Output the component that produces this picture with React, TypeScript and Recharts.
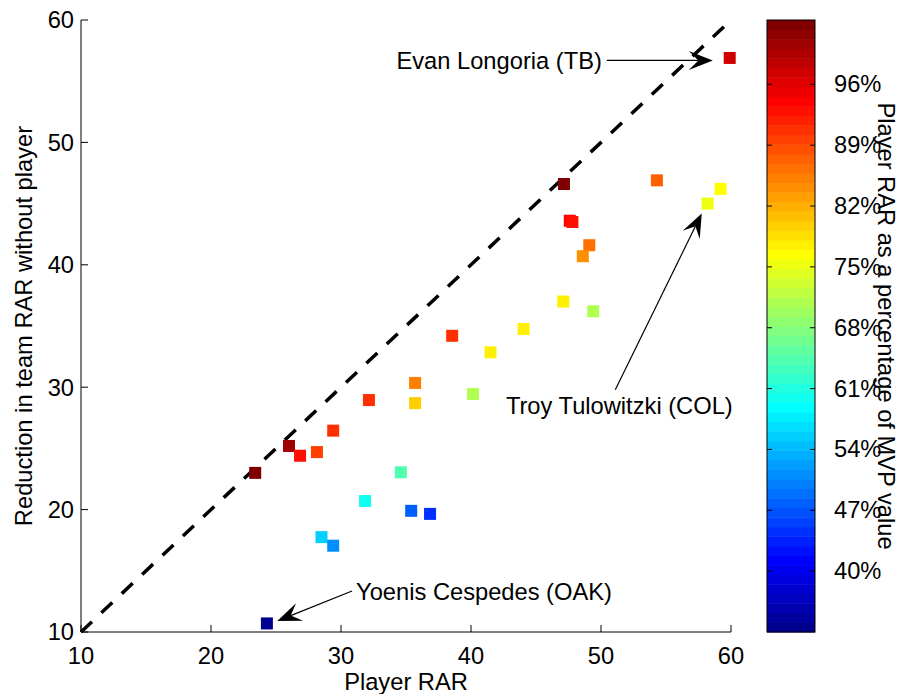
import { ScatterChart, Scatter, XAxis, YAxis, ReferenceLine } from "recharts";

// player RAR (x), reduction in team RAR without player (y), colour value (% of MVP value)
const playerRar = [
  59.9, 47.15, 47.6, 47.8, 49.1, 48.6, 54.3, 59.2, 58.2, 47.1,
  49.4, 44.05, 38.55, 41.5, 35.7, 35.7, 40.15, 32.15, 29.4, 26.0,
  26.85, 28.15, 23.4, 34.6, 31.85, 35.4, 36.85, 28.5, 29.4, 24.3,
];
const teamDrop = [
  56.9, 46.6, 43.6, 43.5, 41.6, 40.7, 46.9, 46.2, 45.0, 37.0,
  36.2, 34.75, 34.2, 32.85, 30.35, 28.7, 29.45, 28.95, 26.45, 25.2,
  24.4, 24.7, 23.0, 23.05, 20.7, 19.9, 19.65, 17.75, 17.05, 10.7,
];
const pctMvp = [
  97.4, 103, 94, 93, 86.4, 84.2, 87.5, 76.5, 75.3, 78,
  71, 77.5, 90.8, 77.5, 85.3, 79.8, 71, 90.8, 90.8, 100.6,
  93, 89.3, 103, 64.4, 60, 48, 44.6, 55.6, 51.2, 33.5,
];

const axisTicks = [10, 20, 30, 40, 50, 60];
const diagonal = [10, 60];

const colorMin = 33.0;
const colorMax = 103.4;
const colorTicks = [40, 47, 54, 61, 68, 75, 82, 89, 96];

const noteLabels = ["Evan Longoria (TB)", "Troy Tulowitzki (COL)", "Yoenis Cespedes (OAK)"];
const noteFrom = [[50.45, 56.7], [51.1, 29.8], [30.85, 13.35]];
const noteTo = [[58.6, 56.7], [57.75, 44.2], [25.1, 10.9]];

const FONT = "'Liberation Sans', Arial, Helvetica, sans-serif";
const FS = 23.7;

function jet(p: number) {
  const i = Math.min(63, Math.max(0, Math.floor(((p - colorMin) / (colorMax - colorMin)) * 64)));
  const t = (i + 1) / 64;
  const c = (v: number) => Math.round(255 * Math.max(0, Math.min(1, v)));
  return `rgb(${c(Math.min(4 * t - 1.5, 4.5 - 4 * t))},${c(Math.min(4 * t - 0.5, 3.5 - 4 * t))},${c(Math.min(4 * t + 0.5, 2.5 - 4 * t))})`;
}

const points = playerRar.map((x, i) => ({ x, y: teamDrop[i], pct: pctMvp[i] }));

const Square = (props: any) => {
  const { cx, cy, payload } = props;
  if (cx == null || cy == null) return <g />;
  return <rect x={cx - 6} y={cy - 6} width={12} height={12} fill={jet(payload.pct)} />;
};

function arrowShape(idx: number) {
  return (props: any) => {
    const { x1, y1, x2, y2 } = props;
    const dx = x2 - x1, dy = y2 - y1;
    const len = Math.hypot(dx, dy) || 1;
    const ux = dx / len, uy = dy / len;
    const nx = -uy, ny = ux;
    const L = 24, W = 9.5;
    const bx = x2 - ux * L, by = y2 - uy * L;
    const notchX = x2 - ux * L * 0.6, notchY = y2 - uy * L * 0.6;
    const head = `${x2},${y2} ${bx + nx * W},${by + ny * W} ${notchX},${notchY} ${bx - nx * W},${by - ny * W}`;
    let text;
    if (idx === 0) {
      text = <text x={x1 - 5} y={y1 + 1} textAnchor="end" dominantBaseline="central">{noteLabels[idx]}</text>;
    } else if (idx === 1) {
      text = <text x={x1 + 4} y={y1 + 16} textAnchor="middle" dominantBaseline="central">{noteLabels[idx]}</text>;
    } else {
      text = <text x={x1 + 4} y={y1 + 1} textAnchor="start" dominantBaseline="central">{noteLabels[idx]}</text>;
    }
    return (
      <g fontFamily={FONT} fontSize={FS} fill="#000">
        <line x1={x1} y1={y1} x2={notchX} y2={notchY} stroke="#000" strokeWidth={1.2} />
        <polygon points={head} fill="#000" stroke="none" />
        {text}
      </g>
    );
  };
}

const tickStyle = { fontSize: FS, fill: "#000", fontFamily: FONT };
const NoLabel = () => <g />;

function ColorBar() {
  const left = 767, right = 815, top = 20, bottom = 632;
  const h = bottom - top;
  const yOf = (p: number) => bottom - ((p - colorMin) / (colorMax - colorMin)) * h;
  const bands = Array.from({ length: 64 }, (_, i) => i);
  return (
    <svg width={901} height={694} style={{ position: "absolute", left: 0, top: 0, pointerEvents: "none" }}
      fontFamily={FONT} fontSize={FS}>
      {bands.map((i) => {
        const p = colorMin + ((i + 0.5) / 64) * (colorMax - colorMin);
        const y0 = bottom - ((i + 1) / 64) * h;
        return <rect key={i} x={left} y={y0} width={right - left} height={h / 64 + 0.5} fill={jet(p)} />;
      })}
      <rect x={left} y={top} width={right - left} height={h} fill="none" stroke="#000" strokeWidth={1} />
      {colorTicks.map((t) => (
        <g key={t}>
          <line x1={left} x2={left + 5} y1={yOf(t)} y2={yOf(t)} stroke="#000" />
          <line x1={right - 5} x2={right} y1={yOf(t)} y2={yOf(t)} stroke="#000" />
          <text x={834} y={yOf(t)} dominantBaseline="central" fill="#000">{t}%</text>
        </g>
      ))}
      <text x={886} y={326} textAnchor="middle" dominantBaseline="central" transform="rotate(90 886 326)" fill="#000">
        Player RAR as a percentage of MVP value
      </text>
    </svg>
  );
}

export default function App() {
  return (
    <div style={{ position: "absolute", left: 0, top: 0, width: 901, height: 694, background: "#fff", fontFamily: FONT }}>
      <ScatterChart width={901} height={694} margin={{ top: 20, right: 170, bottom: 22, left: 21 }}>
        <XAxis type="number" dataKey="x" domain={[10, 60]} ticks={axisTicks} interval={0}
          height={40} tickSize={-7} tickMargin={22} tick={tickStyle}
          axisLine={{ stroke: "#000" }} tickLine={{ stroke: "#000" }}
          label={{ content: () => <text x={406} y={690} textAnchor="middle" fontSize={FS} fontFamily={FONT} fill="#000">Player RAR</text> }} />
        <XAxis xAxisId="top" orientation="top" type="number" domain={[10, 60]} ticks={axisTicks} interval={0}
          height={0} tickSize={-7} tick={NoLabel} axisLine={{ stroke: "#000" }} tickLine={{ stroke: "#000" }} />
        <YAxis type="number" dataKey="y" domain={[10, 60]} ticks={axisTicks} interval={0}
          width={60} tickSize={-7} tickMargin={14} tick={tickStyle}
          axisLine={{ stroke: "#000" }} tickLine={{ stroke: "#000" }}
          label={{ content: () => (
            <text x={24} y={326} textAnchor="middle" dominantBaseline="central" transform="rotate(-90 24 326)"
              fontSize={FS} fontFamily={FONT} fill="#000">Reduction in team RAR without player</text>
          ) }} />
        <YAxis yAxisId="right" orientation="right" type="number" domain={[10, 60]} ticks={axisTicks} interval={0}
          width={0} tickSize={-7} tick={NoLabel} axisLine={{ stroke: "#000" }} tickLine={{ stroke: "#000" }} />
        <Scatter data={points} shape={Square} isAnimationActive={false} />
        <ReferenceLine segment={[{ x: diagonal[0], y: diagonal[0] }, { x: diagonal[1], y: diagonal[1] }]}
          stroke="#000" strokeWidth={3.5} strokeDasharray="15 13" />
        {noteLabels.map((lab, i) => (
          <ReferenceLine key={lab}
            segment={[{ x: noteFrom[i][0], y: noteFrom[i][1] }, { x: noteTo[i][0], y: noteTo[i][1] }]}
            shape={arrowShape(i)} />
        ))}
      </ScatterChart>
      <ColorBar />
    </div>
  );
}
